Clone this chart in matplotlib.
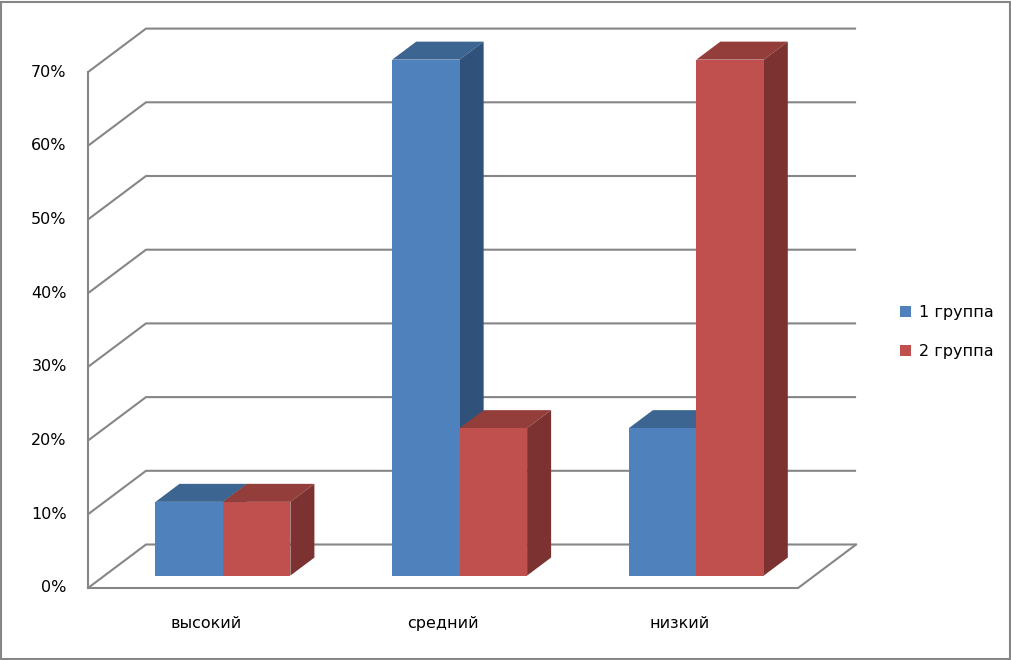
import numpy as np
import matplotlib
matplotlib.use("Agg")
import matplotlib.pyplot as plt
from matplotlib.patches import Polygon, Rectangle, Patch

categories = ["высокий", "средний", "низкий"]
series_names = ["1 группа", "2 группа"]
group1 = [10, 70, 20]
group2 = [10, 20, 70]
y_ticks = [0, 10, 20, 30, 40, 50, 60, 70]

front_colors = ["#4F81BD", "#C0504D"]
top_colors = ["#3D6591", "#943E3B"]
side_colors = ["#30517A", "#7B3230"]
grid_color = "#868686"

# oblique projection (depth offsets, in data units)
DX = 0.245       # category units per full depth
DY = 5.9         # percent units per full depth
D0, D1 = 0.286, 0.70   # bar front / back depth
BAR_W = 0.285


def proj(x, y, d):
    return (x + d * DX, y + d * DY)


fig = plt.figure(figsize=(10.12, 6.6), dpi=100)
ax = fig.add_axes([0, 0, 1, 1])
ax.set_xlim(-0.3718, 3.9037)
ax.set_ylim(-9.77, 79.78)
ax.axis("off")

ymax = max(y_ticks)
ncat = len(categories)

# walls / floor gridlines
for t in y_ticks:
    pts = [proj(0, t, 0), proj(0, t, 1), proj(ncat, t, 1)]
    ax.plot(*zip(*pts), color=grid_color, lw=1.5, solid_capstyle="butt")
ax.plot(*zip(proj(0, 0, 0), proj(0, ymax, 0)), color=grid_color, lw=1.5)
floor = [proj(0, 0, 0), proj(ncat, 0, 0), proj(ncat, 0, 1)]
ax.plot(*zip(*floor), color=grid_color, lw=1.5)

# bars
for i in range(ncat):
    center = i + 0.5
    for s, vals in enumerate([group1, group2]):
        v = vals[i]
        x0 = center - BAR_W + s * BAR_W
        x1 = x0 + BAR_W
        front = [proj(x0, 0, D0), proj(x1, 0, D0), proj(x1, v, D0), proj(x0, v, D0)]
        top = [proj(x0, v, D0), proj(x1, v, D0), proj(x1, v, D1), proj(x0, v, D1)]
        side = [proj(x1, 0, D0), proj(x1, v, D0), proj(x1, v, D1), proj(x1, 0, D1)]
        ax.add_patch(Polygon(top, closed=True, facecolor=top_colors[s], edgecolor="none", zorder=3))
        ax.add_patch(Polygon(side, closed=True, facecolor=side_colors[s], edgecolor="none", zorder=3))
        ax.add_patch(Polygon(front, closed=True, facecolor=front_colors[s], edgecolor="none", zorder=3))

# tick labels
for t in y_ticks:
    ax.text(-0.09, t, f"{t}%", ha="right", va="center", fontsize=11.5, color="#000000")
for i, c in enumerate(categories):
    ax.text(i + 0.5, -4.75, c, ha="center", va="center", fontsize=11.5, color="#000000")

handles = [Patch(facecolor=front_colors[k], edgecolor="none") for k in range(2)]
ax.legend(handles, series_names, loc="center left", bbox_to_anchor=(0.875, 0.497),
          frameon=False, fontsize=11.5, handlelength=0.7, handleheight=0.7,
          handletextpad=0.5, labelspacing=1.5)

fig.add_artist(Rectangle((0.001, 0.0015), 0.997, 0.996, transform=fig.transFigure,
                         fill=False, edgecolor=grid_color, lw=1.5))

fig.savefig("out.png", dpi=100)
